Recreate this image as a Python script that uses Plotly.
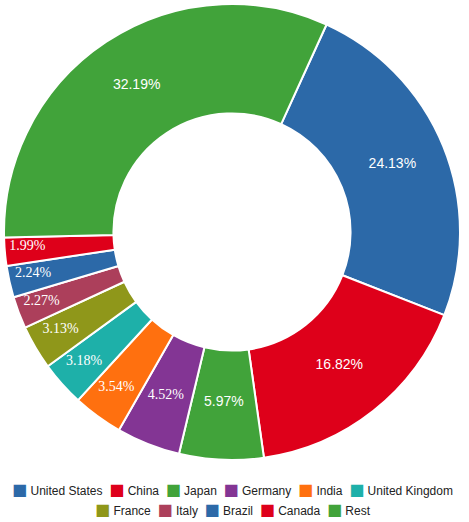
import plotly.graph_objects as go

# Share of total by country
countries = ["United States", "China", "Japan", "Germany", "India", "United Kingdom",
             "France", "Italy", "Brazil", "Canada", "Rest"]
shares = [24.13, 16.82, 5.97, 4.52, 3.54, 3.18, 3.13, 2.27, 2.24, 1.99, 32.19]

palette = ["#2c69a8", "#de001a", "#41a33a", "#833594", "#ff700f", "#1eb0a9", "#8f971a", "#ac3f5b"]
colors = [palette[i % len(palette)] for i in range(len(countries))]

ROT = 24.5
labels_txt = ["%.2f%%" % s for s in shares]
small = [s < 4 for s in shares]
# the small slices are labelled in a serif face in the original
label_fonts = ["Liberation Sans" if s > 5 else "Liberation Serif" for s in shares]

fig = go.Figure()

# the ring itself
fig.add_trace(go.Pie(
    labels=countries, values=shares, hole=0.52, sort=False,
    direction="clockwise", rotation=ROT,
    marker=dict(colors=colors, line=dict(color="white", width=2)),
    textinfo="none", hoverinfo="label+percent", showlegend=False,
))

# percentage labels: transparent rings on top so the text lands mid-ring
# (wide slices) or pushed outwards (thin slices), like the original
def label_ring(radius, hole, show):
    half = radius / 456
    yc = 0.5 + 4 / 456  # labels sit a few px above the slice centre line
    fig.add_trace(go.Pie(
        labels=countries, values=shares, hole=hole, sort=False,
        direction="clockwise", rotation=ROT,
        domain=dict(x=[0.5 - half, 0.5 + half], y=[yc - half, yc + half]),
        marker=dict(colors=["rgba(0,0,0,0)"] * len(countries), line=dict(width=0)),
        text=[t if s else "" for t, s in zip(labels_txt, show)],
        textinfo="text", textposition="inside", insidetextorientation="horizontal",
        textfont=dict(color="white", size=14, family=label_fonts),
        hoverinfo="skip", showlegend=False,
    ))

label_ring(205, 0.688, [not s for s in small])
label_ring(218, 0.588, small)

# legend drawn as two centred rows of text (plotly's own legend wraps into a grid)
def legend_row(idx):
    parts = []
    for n, i in enumerate(idx):
        gap = "\u00a0\u00a0" if n < len(idx) - 1 else ""
        parts.append('<span style="color:%s;font-family:DejaVu Sans;font-size:16px">\u25a0</span>'
                     '<span style="font-size:12px">\u00a0%s%s</span>' % (colors[i], countries[i], gap))
    return "".join(parts)

legend_rows = [list(range(0, 6)), list(range(6, 11))]
fig.add_annotation(text="<br>".join(legend_row(r) for r in legend_rows),
                   x=0.5, y=-0.0875, xref="paper", yref="paper",
                   xanchor="center", yanchor="middle", align="center", showarrow=False,
                   font=dict(family="Liberation Sans, Arial, sans-serif", size=15.4, color="#222"))

fig.update_layout(
    width=469,
    height=522,
    margin=dict(l=4, r=9, t=4, b=62),
    paper_bgcolor="white",
    font=dict(family="Liberation Sans, Arial, sans-serif", size=12, color="#222"),
    uniformtext=dict(minsize=14, mode="show"),
)

# page body has an 8px default margin; drop it so the figure sits at the corner
fig.write_html("out.html", config={"displayModeBar": False},
               post_script="document.body.style.margin='0';")
